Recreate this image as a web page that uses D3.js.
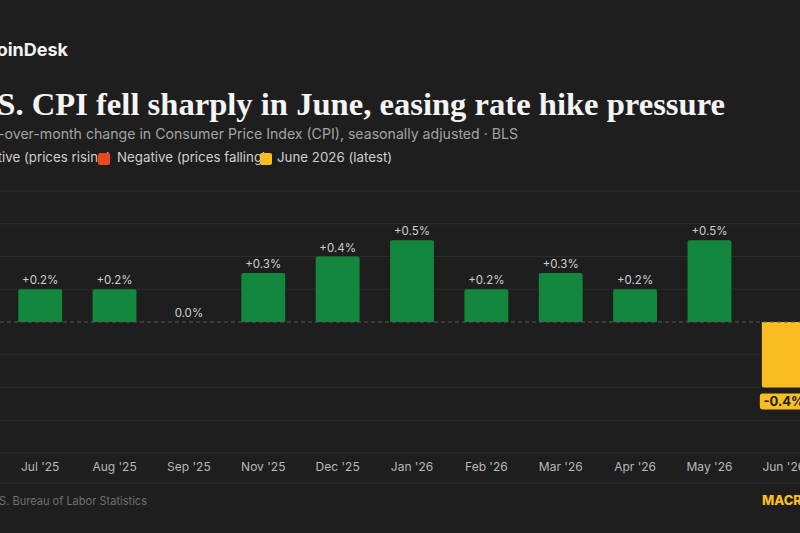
<!DOCTYPE html>
<html lang="en">
<head>
<meta charset="UTF-8" />
<title>CPI month-over-month</title>
<script src="https://d3js.org/d3.v7.min.js"></script>
<style>
  html, body { margin: 0; padding: 0; background: #1e1e1e; overflow: hidden; }
  svg { display: block; }
</style>
</head>
<body>
<svg id="chart" width="800" height="533"></svg>
<script>
  // data
  const months = ["Jul '25", "Aug '25", "Sep '25", "Nov '25", "Dec '25", "Jan '26",
                  "Feb '26", "Mar '26", "Apr '26", "May '26", "Jun '26"];
  const changes = [0.2, 0.2, 0.0, 0.3, 0.4, 0.5, 0.2, 0.3, 0.2, 0.5, -0.4];
  const yTicks = [-0.8, -0.6, -0.4, -0.2, 0, 0.2, 0.4, 0.6, 0.8];
  const latest = "Jun '26";

  const green = "#12873d", red = "#e8491d", yellow = "#f8bd22";
  const sans = "Inter, 'Noto Sans', sans-serif";

  const svg = d3.select("#chart");
  const W = 800, H = 533;

  svg.append("rect").attr("width", W).attr("height", H).attr("fill", "#1e1e1e");

  // fit a font size so that `part` of the string measures `target` px
  function fitSize(part, base, family, weight, target) {
    const t = svg.append("text")
      .attr("font-family", family).attr("font-weight", weight)
      .attr("font-size", base).text(part);
    const w = t.node().getComputedTextLength();
    t.remove();
    return base * target / w;
  }

  // header (cropped on the left like the reference)
  svg.append("text")
    .attr("x", 68).attr("y", 56)
    .attr("text-anchor", "end")
    .attr("font-family", sans).attr("font-weight", 700)
    .attr("font-size", 18).attr("fill", "#f2f2f2")
    .text("CoinDesk");

  const titleFont = "'Liberation Serif', 'DejaVu Serif', serif";
  const titleSize = fitSize("S. CPI fell sharply in June, easing rate hike pressure",
                            32, titleFont, 700, 728);
  svg.append("text")
    .attr("x", 725).attr("y", 115)
    .attr("text-anchor", "end")
    .attr("font-family", titleFont).attr("font-weight", 700)
    .attr("font-size", titleSize).attr("fill", "#f4f4f4")
    .text("U.S. CPI fell sharply in June, easing rate hike pressure");

  const subSize = fitSize("-over-month change in Consumer Price Index (CPI), seasonally adjusted · BLS",
                          14, sans, 400, 520);
  svg.append("text")
    .attr("x", 518).attr("y", 139)
    .attr("text-anchor", "end")
    .attr("font-family", sans).attr("font-size", subSize).attr("fill", "#a3a3a3")
    .text("Month-over-month change in Consumer Price Index (CPI), seasonally adjusted · BLS");

  // legend (swatches overlap the previous label, as in the reference)
  const lg = svg.append("g").attr("font-family", sans).attr("font-size", 13.3).attr("fill", "#cfcfcf");
  lg.append("text").attr("x", 111).attr("y", 162).attr("text-anchor", "end")
    .text("Positive (prices rising)");
  lg.append("rect").attr("x", 98).attr("y", 153).attr("width", 12).attr("height", 12)
    .attr("rx", 2).attr("fill", red);
  lg.append("text").attr("x", 117).attr("y", 162).text("Negative (prices falling)");
  lg.append("rect").attr("x", 260).attr("y", 153).attr("width", 12).attr("height", 12)
    .attr("rx", 2).attr("fill", yellow);
  lg.append("text").attr("x", 277).attr("y", 162).text("June 2026 (latest)");

  // scales
  const x = d3.scaleBand().domain(months).range([3, 821])
    .paddingInner(0.41).paddingOuter(0.205);
  const y = d3.scaleLinear().domain([-0.8, 0.8]).range([453, 191]);

  // grid
  svg.append("g").selectAll("line")
    .data(yTicks.filter(d => d !== 0))
    .join("line")
      .attr("x1", 0).attr("x2", W)
      .attr("y1", d => y(d)).attr("y2", d => y(d))
      .attr("stroke", "#2c2c2c").attr("stroke-width", 1);

  // bars
  const data = months.map((m, i) => ({ month: m, value: changes[i] }));
  const color = d => d.month === latest ? yellow : (d.value >= 0 ? green : red);

  svg.append("g").selectAll("path")
    .data(data.filter(d => d.value !== 0))
    .join("path")
      .attr("fill", color)
      .attr("d", d => {
        const x0 = x(d.month), bw = x.bandwidth();
        const y0 = y(0), y1 = y(d.value), r = 2;
        const s = d.value > 0 ? 1 : -1;
        return `M${x0},${y0} L${x0},${y1 + s * r} Q${x0},${y1} ${x0 + r},${y1}` +
               ` L${x0 + bw - r},${y1} Q${x0 + bw},${y1} ${x0 + bw},${y1 + s * r}` +
               ` L${x0 + bw},${y0} Z`;
      });

  // zero line
  svg.append("line")
    .attr("x1", 0).attr("x2", W)
    .attr("y1", y(0)).attr("y2", y(0))
    .attr("stroke", "#5a5a5a").attr("stroke-dasharray", "4,3");

  // value labels
  const fmt = v => (v > 0 ? "+" : "") + v.toFixed(1) + "%";
  svg.append("g").selectAll("text")
    .data(data.filter(d => d.value >= 0))
    .join("text")
      .attr("x", d => x(d.month) + x.bandwidth() / 2)
      .attr("y", d => y(d.value) - 5)
      .attr("text-anchor", "middle")
      .attr("font-family", sans).attr("font-size", 11.5).attr("fill", "#cfcfcf")
      .text(d => fmt(d.value));

  const neg = data.filter(d => d.value < 0);
  const negG = svg.append("g").selectAll("g").data(neg).join("g")
    .attr("transform", d => `translate(${x(d.month) + x.bandwidth() / 2},${y(d.value) + 6})`);
  negG.append("rect")
    .attr("x", -24).attr("y", 0).attr("width", 48).attr("height", 16)
    .attr("rx", 3).attr("fill", d => color(d));
  negG.append("text")
    .attr("x", 0).attr("y", 12.5).attr("text-anchor", "middle")
    .attr("font-family", sans).attr("font-weight", 700).attr("font-size", 13)
    .attr("fill", "#1e1e1e")
    .text(d => fmt(d.value));

  // x axis labels
  const xAxis = d3.axisBottom(x).tickSize(0).tickPadding(0);
  const ax = svg.append("g").attr("transform", "translate(0,462)").call(xAxis);
  ax.select(".domain").remove();
  ax.selectAll("text")
    .attr("dy", "0.71em")
    .attr("font-family", sans).attr("font-size", 12).attr("fill", "#b8b8b8");

  // footer
  svg.append("line").attr("x1", 0).attr("x2", W).attr("y1", 483).attr("y2", 483)
    .attr("stroke", "#2e2e2e");
  const srcSize = fitSize("S. Bureau of Labor Statistics", 12, sans, 400, 148);
  svg.append("text")
    .attr("x", 147).attr("y", 505).attr("text-anchor", "end")
    .attr("font-family", sans).attr("font-size", srcSize).attr("fill", "#707070")
    .text("Source: U.S. Bureau of Labor Statistics");
  svg.append("text")
    .attr("x", 762).attr("y", 505)
    .attr("font-family", sans).attr("font-weight", 800).attr("font-size", 13)
    .attr("fill", yellow)
    .text("MACRO DESK");
</script>
</body>
</html>
